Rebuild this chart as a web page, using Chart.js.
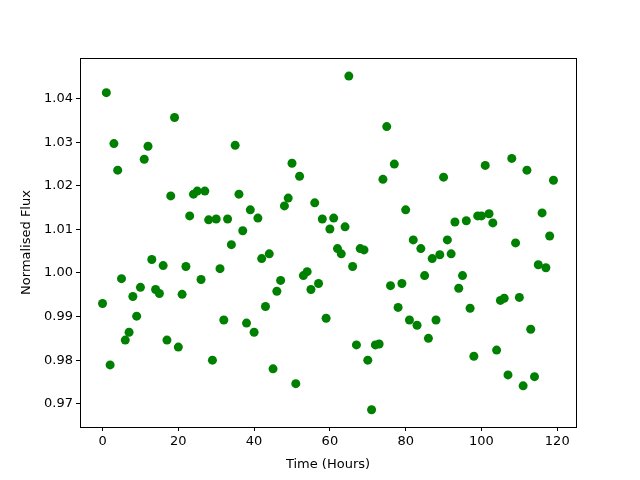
<!DOCTYPE html>
<html>
<head>
<meta charset="utf-8">
<script src="https://cdn.jsdelivr.net/npm/chart.js@4/dist/chart.umd.min.js"></script>
<style>
  html, body { margin: 0; padding: 0; background: #fff; }
  #wrap { width: 640px; height: 480px; position: relative; }
</style>
</head>
<body>
<div id="wrap"><canvas id="fluxChart" width="640" height="480"></canvas></div>
<script>
  // time in hours
  const hours = [
    0, 1, 2, 3, 4, 5, 6, 7, 8, 9, 10, 11, 12, 13, 14, 15, 16, 17, 18, 19,
    20, 21, 22, 23, 24, 25, 26, 27, 28, 29, 30, 31, 32, 33, 34, 35, 36, 37, 38, 39,
    40, 41, 42, 43, 44, 45, 46, 47, 48, 49, 50, 51, 52, 53, 54, 55, 56, 57, 58, 59,
    60, 61, 62, 63, 64, 65, 66, 67, 68, 69, 70, 71, 72, 73, 74, 75, 76, 77, 78, 79,
    80, 81, 82, 83, 84, 85, 86, 87, 88, 89, 90, 91, 92, 93, 94, 95, 96, 97, 98, 99,
    100, 101, 102, 103, 104, 105, 106, 107, 108, 109, 110, 111, 112, 113, 114, 115, 116, 117, 118, 119
  ];

  // normalised flux
  const flux = [
    0.9930, 1.0414, 0.9789, 1.0297, 1.0236, 0.9987, 0.9846, 0.9864, 0.9946, 0.9901,
    0.9967, 1.0261, 1.0291, 1.0031, 0.9962, 0.9953, 1.0017, 0.9846, 1.0177, 1.0357,
    0.9830, 0.9951, 1.0015, 1.0131, 1.0181, 1.0188, 0.9985, 1.0188, 1.0122, 0.9800,
    1.0124, 1.0010, 0.9892, 1.0124, 1.0065, 1.0293, 1.0181, 1.0097, 0.9885, 1.0145,
    0.9864, 1.0126, 1.0033, 0.9923, 1.0044, 0.9780, 0.9958, 0.9983, 1.0154, 1.0172,
    1.0252, 0.9746, 1.0222, 0.9994, 1.0003, 0.9962, 1.0161, 0.9976, 1.0124, 0.9896,
    1.0101, 1.0126, 1.0056, 1.0044, 1.0106, 1.0452, 1.0015, 0.9835, 1.0056, 1.0053,
    0.9800, 0.9686, 0.9835, 0.9837, 1.0215, 1.0336, 0.9971, 1.0250, 0.9921, 0.9976,
    1.0145, 0.9892, 1.0076, 0.9880, 1.0056, 0.9994, 0.9850, 1.0033, 0.9892, 1.0042,
    1.0220, 1.0076, 1.0044, 1.0117, 0.9965, 0.9994, 1.0120, 0.9919, 0.9809, 1.0131,
    1.0131, 1.0247, 1.0136, 1.0115, 0.9823, 0.9937, 0.9942, 0.9766, 1.0263, 1.0069,
    0.9944, 0.9741, 1.0236, 0.9871, 0.9762, 1.0019, 1.0138, 1.0012, 1.0085, 1.0213
  ];

  const xTicks = [0, 20, 40, 60, 80, 100, 120];
  const yTicks = [0.97, 0.98, 0.99, 1.00, 1.01, 1.02, 1.03, 1.04];

  const points = hours.map((h, i) => ({ x: h, y: flux[i] }));

  // matplotlib draws a box round the axes
  const frame = {
    id: 'frame',
    afterDraw(chart) {
      const { ctx, chartArea: a } = chart;
      ctx.save();
      ctx.strokeStyle = '#000';
      ctx.lineWidth = 1;
      ctx.strokeRect(Math.round(a.left) + 0.5, Math.round(a.top) + 0.5,
        Math.round(a.right - a.left), Math.round(a.bottom - a.top));
      ctx.restore();
    }
  };

  const tickFont = { family: 'DejaVu Sans', size: 13 };

  new Chart(document.getElementById('fluxChart'), {
    type: 'scatter',
    data: {
      datasets: [{
        data: points,
        backgroundColor: '#008000',
        borderColor: '#008000',
        pointRadius: 4.5,
        pointHoverRadius: 4.5,
        borderWidth: 0
      }]
    },
    options: {
      responsive: false,
      animation: false,
      layout: { padding: { top: 58, right: 64, left: 0, bottom: 0 } },
      plugins: { legend: { display: false }, tooltip: { enabled: false } },
      scales: {
        x: {
          type: 'linear',
          min: -5.95,
          max: 124.95,
          afterBuildTicks: (s) => { s.ticks = xTicks.map(v => ({ value: v })); },
          afterFit: (s) => { s.height = 53; },
          grid: { drawOnChartArea: false, drawTicks: true, tickLength: 4, tickColor: '#000' },
          border: { color: '#000' },
          ticks: { color: '#000', font: tickFont, padding: 3, maxRotation: 0 },
          title: { display: true, text: 'Time (Hours)', color: '#000', font: tickFont, padding: { top: 0, bottom: 8 } }
        },
        y: {
          min: 0.96465,
          max: 1.04935,
          afterBuildTicks: (s) => { s.ticks = yTicks.map(v => ({ value: v })); },
          afterFit: (s) => { s.width = 80; },
          grid: { drawOnChartArea: false, drawTicks: true, tickLength: 4, tickColor: '#000' },
          border: { color: '#000' },
          ticks: { color: '#000', font: tickFont, padding: 3, callback: (v) => v.toFixed(2) },
          title: { display: true, text: 'Normalised Flux', color: '#000', font: tickFont, padding: { top: 19, bottom: 0 } }
        }
      }
    },
    plugins: [frame]
  });
</script>
</body>
</html>
